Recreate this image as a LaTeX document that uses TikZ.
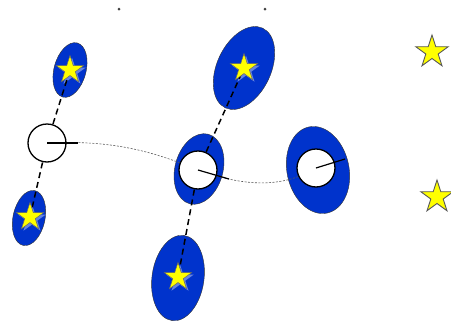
\documentclass[tikz,border=0pt]{standalone}
\usetikzlibrary{shapes.geometric}
\definecolor{blobblue}{RGB}{0,51,204}
\definecolor{staryellow}{RGB}{255,255,0}
\tikzset{
  blob/.style={ellipse, inner sep=0pt, fill=blobblue, draw=black!80, line width=0.4pt},
  goldstar/.style={star, star points=5, star point ratio=2.618, inner sep=0pt,
    minimum size=#1, fill=staryellow, draw=black!60, line width=0.5pt},
  glow/.style={star, star points=5, star point ratio=2.618, inner sep=0pt,
    minimum size=#1, fill=white, opacity=0.4},
  freestar/.style={goldstar=#1, draw=gray!70!black, line width=0.9pt},
  ring/.style={circle, inner sep=0pt, minimum size=38pt, fill=white, draw=black, line width=1.3pt},
  link/.style={draw=black, line width=1.5pt, dash pattern=on 6pt off 4pt},
  heading/.style={draw=black, line width=1.2pt},
  track/.style={draw=gray!70!black, line width=0.6pt, dash pattern=on 2pt off 1.5pt},
  tick/.style={circle, inner sep=0pt, minimum size=3pt, fill=black!75}
}
\begin{document}
\begin{tikzpicture}[x=1pt, y=-1pt]
  \useasboundingbox (0,0) rectangle (451,322);

  % top marks
  \node[tick] (d1) at (119,9) {};
  \node[tick] (d2) at (265,9) {};

  % blue uncertainty ellipses
  \node[blob, minimum width=32pt, minimum height=56pt, rotate=-15] (e1) at (70,70) {};
  \node[blob, minimum width=32pt, minimum height=56pt, rotate=-12] (e2) at (29,218) {};
  \node[blob, minimum width=54pt, minimum height=88pt, rotate=-25] (e3) at (244,68) {};
  \node[blob, minimum width=48pt, minimum height=72pt, rotate=-15] (e4) at (199,169) {};
  \node[blob, minimum width=62pt, minimum height=88pt, rotate=12] (e5) at (318,170) {};
  \node[blob, minimum width=52pt, minimum height=86pt, rotate=-8] (e6) at (178,278) {};

  % robot poses
  \coordinate (p1) at (47,143);
  \coordinate (p2) at (198,170);
  \coordinate (p3) at (316,168);

  % estimated trajectory
  \draw[track] (p1) .. controls (110,140) and (150,150) .. (p2)
                    .. controls (240,185) and (280,190) .. (p3);

  % landmark stars
  \node[glow=29pt] (g1) at (72,72) {};
  \node[glow=29pt] (g2) at (32,219) {};
  \node[glow=29pt] (g3) at (246,70) {};
  \node[glow=29pt] (g4) at (180,279) {};

  % observation links
  \draw[link] (p1) -- (70,70) coordinate (s1pos);
  \draw[link] (p1) -- (30,217) coordinate (s2pos);
  \draw[link] (p2) -- (244,68) coordinate (s3pos);
  \draw[link] (p2) -- (178,277) coordinate (s4pos);

  \node[goldstar=29pt] (s1) at (s1pos) {};
  \node[goldstar=29pt] (s2) at (s2pos) {};
  \node[goldstar=29pt] (s3) at (s3pos) {};
  \node[goldstar=29pt] (s4) at (s4pos) {};
  \node[freestar=34pt] (s5) at (432,52) {};
  \node[freestar=34pt] (s6) at (437,197) {};

  % pose circles with heading
  \node[ring] (c1) at (p1) {};
  \node[ring] (c2) at (p2) {};
  \node[ring] (c3) at (p3) {};
  \coordinate (h1) at (78,143);
  \coordinate (h2) at (229,179);
  \coordinate (h3) at (345,159);
  \draw[heading] (c1.center) -- (h1);
  \draw[heading] (c2.center) -- (h2);
  \draw[heading] (c3.center) -- (h3);
\end{tikzpicture}
\end{document}
